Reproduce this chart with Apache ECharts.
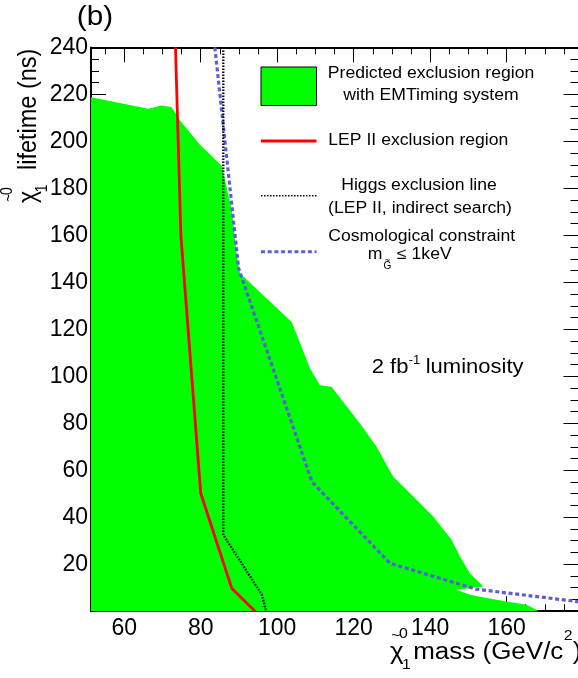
<!DOCTYPE html>
<html><head><meta charset="utf-8">
<script src="https://cdn.jsdelivr.net/npm/echarts@6/dist/echarts.min.js"></script>
<style>html,body{margin:0;padding:0;background:#fff}#c{width:578px;height:678px}</style>
</head><body><div id="c"></div>
<script>
// ---- axis ranges & ticks ----
const XMIN = 51.3, XMAX = 178.8, YMIN = 0, YMAX = 240;
const xTickLabels = [60, 80, 100, 120, 140, 160];
const xMinorTicks = [55, 60, 65, 70, 75, 80, 85, 90, 95, 100, 105, 110, 115, 120, 125, 130, 135, 140, 145, 150, 155, 160, 165, 170, 175];
const yTickLabels = [20, 40, 60, 80, 100, 120, 140, 160, 180, 200, 220, 240];

// ---- predicted exclusion region (EMTiming), polygon boundary ----
const exclusionMass     = [51.3, 66.3, 69.8, 72.4, 74.6, 79.8, 85.5, 88.1, 89.4, 90.3, 103.8, 108.6, 111.2, 114.2, 121.6, 126.0, 130.3, 135.6, 140.8, 145.6, 147.8, 150.4, 153.9, 146.9, 150.4, 154.8, 160.0, 165.2, 167.8, 168.3, 51.3];
const exclusionLifetime = [218.8, 213.9, 215.3, 214.5, 208.9, 198.6, 189.6, 171.0, 152.0, 143.7, 123.1, 103.3, 96.2, 95.5, 80.0, 70.0, 57.3, 48.8, 40.3, 30.4, 23.3, 16.2, 10.5, 9.1, 7.0, 5.6, 4.1, 2.7, 0.6, 0, 0];

// ---- LEP II exclusion region ----
const lepMass     = [73.4, 74.8, 80.0, 88.1, 94.2];
const lepLifetime = [240, 160, 50.2, 9.8, 0];

// ---- Higgs exclusion line ----
const higgsMass     = [85.9, 85.9, 96.0, 97.1];
const higgsLifetime = [240, 32.5, 7, 0];

// ---- Cosmological constraint ----
const cosmoMass     = [83.7, 89.9, 109.1, 129.5, 152.0, 180];
const cosmoLifetime = [240, 146, 55, 20.4, 9.4, 3.8];

const FONT = '"Liberation Sans", Arial, Helvetica, sans-serif';
const GREEN = '#00ff00', RED = '#ff0000', BLUE = '#5c5cdc';
const zip = (a, b) => a.map((v, i) => [v, b[i]]);

function T(x, y, text, size, align, sx) {
  return {type: 'text', x: x, y: y, scaleX: sx || 1, silent: true,
    style: {text: text, fontSize: size, fontFamily: FONT, fill: '#000', align: align || 'left', verticalAlign: 'middle'}};
}

function xAxisCfg(position, ticks, len, showLabel, showLine) {
  return {type: 'value', position: position, min: XMIN, max: XMAX, gridIndex: 0,
    axisLine: {show: showLine, onZero: false, lineStyle: {color: '#000', width: 2}},
    axisTick: {show: true, inside: true, length: len, customValues: ticks, lineStyle: {color: '#000', width: 1}},
    axisLabel: {show: showLabel, customValues: ticks, margin: 6, fontSize: 23, color: '#000', fontFamily: FONT},
    splitLine: {show: false}};
}
function yAxisCfg(position, showLabel) {
  return {type: 'value', position: position, min: YMIN, max: YMAX, interval: 20, gridIndex: 0,
    axisLine: {show: true, onZero: false, lineStyle: {color: '#000', width: 2}},
    axisTick: {show: true, inside: true, length: 15, lineStyle: {color: '#000', width: 1}},
    minorTick: {show: true, splitNumber: 4, length: 8, lineStyle: {color: '#000', width: 1}},
    axisLabel: {show: showLabel, customValues: yTickLabels, margin: 3, fontSize: 23, color: '#000', fontFamily: FONT},
    splitLine: {show: false}, minorSplitLine: {show: false}};
}

const chart = echarts.init(document.getElementById('c'), null, {renderer: 'canvas'});
chart.setOption({
  animation: false,
  backgroundColor: '#fff',
  grid: {left: 91, top: 47.4, width: 487.5, height: 563.8, containLabel: false, outerBoundsMode: 'none'},
  xAxis: [
    xAxisCfg('bottom', xTickLabels, 15, true, true),
    xAxisCfg('bottom', xMinorTicks, 7, false, false),
    xAxisCfg('top', xTickLabels, 15, false, true),
    xAxisCfg('top', xMinorTicks, 7, false, false)
  ],
  yAxis: [yAxisCfg('left', true), yAxisCfg('right', false)],
  series: [
    {type: 'custom', coordinateSystem: 'cartesian2d', xAxisIndex: 0, yAxisIndex: 0, silent: true, z: 1,
      data: zip(exclusionMass, exclusionLifetime),
      renderItem: function (params, api) {
        if (params.dataIndex !== 0) return null;
        const pts = exclusionMass.map((x, i) => api.coord([x, exclusionLifetime[i]]));
        return {type: 'polygon', shape: {points: pts}, style: {fill: GREEN}};
      }},
    {type: 'line', xAxisIndex: 0, yAxisIndex: 0, data: zip(cosmoMass, cosmoLifetime), symbol: 'none', silent: true, z: 3,
      lineStyle: {color: BLUE, width: 3.2, type: [4, 2.7]}},
    {type: 'line', xAxisIndex: 0, yAxisIndex: 0, data: zip(higgsMass, higgsLifetime), symbol: 'none', silent: true, z: 4,
      lineStyle: {color: '#000', width: 2.3, type: [1.6, 1.4]}},
    {type: 'line', xAxisIndex: 0, yAxisIndex: 0, data: zip(lepMass, lepLifetime), symbol: 'none', silent: true, z: 5,
      lineStyle: {color: RED, width: 2.8}}
  ],
  graphic: {elements: [
    T(95, 17.6, '(b)', 27, 'center', 1.1),
    // legend
    {type: 'rect', silent: true, shape: {x: 261, y: 67, width: 55.5, height: 38.5}, style: {fill: GREEN, stroke: '#000', lineWidth: 1}},
    T(431, 74, 'Predicted exclusion region', 16, 'center', 1.1),
    T(431, 96, 'with EMTiming system', 16, 'center', 1.1),
    {type: 'line', silent: true, shape: {x1: 261, y1: 141, x2: 316.5, y2: 141}, style: {stroke: RED, lineWidth: 2.8}},
    T(328.3, 141, 'LEP II exclusion region', 16, 'left', 1.1),
    {type: 'line', silent: true, shape: {x1: 261, y1: 195.7, x2: 316.5, y2: 195.7}, style: {stroke: '#000', lineWidth: 1.6, lineDash: [1.5, 1.5]}},
    T(419, 185.8, 'Higgs exclusion line', 16, 'center', 1.1),
    T(420, 208.2, '(LEP II, indirect search)', 16, 'center', 1.1),
    {type: 'line', silent: true, shape: {x1: 261, y1: 251.7, x2: 316.5, y2: 251.7}, style: {stroke: BLUE, lineWidth: 3, lineDash: [4, 2.7]}},
    T(421.7, 236.5, 'Cosmological constraint', 16, 'center', 1.1),
    T(367.7, 254.5, 'm', 16, 'left', 1.1),
    T(387.5, 266.5, 'G', 10, 'center'),
    T(387.5, 261, '~', 9, 'center'),
    T(397, 254.5, '≤ 1keV', 16, 'left', 1.1),
    // luminosity note
    T(371.7, 367.5, '2 fb', 20, 'left', 1.1),
    T(414.5, 360.5, '-1', 13, 'center'),
    T(425.7, 367.5, 'luminosity', 20, 'left', 1.1),
    // x axis title
    {type: 'group', x: 390, y: 653, scaleX: 1.13, children: [
      T(0, 0, 'χ', 23, 'left'),
      T(5.3, -17, '~', 14, 'center'),
      T(11.9, -18.5, '0', 14, 'center'),
      T(14.6, 12, '1', 14, 'center'),
      T(20.5, 0, 'mass (GeV/c', 23, 'left'),
      T(157.6, -16.5, '2', 14, 'center'),
      T(161.8, 0, ')', 23, 'left')
    ]},
    // y axis title
    {type: 'group', x: 29, y: 203, rotation: Math.PI / 2, scaleY: 1.13, children: [
      T(0, 0, 'χ', 23, 'left'),
      T(5.3, -17, '~', 14, 'center'),
      T(11.9, -18.5, '0', 14, 'center'),
      T(14.6, 12, '1', 14, 'center'),
      T(33, 0, 'lifetime (ns)', 23.5, 'left')
    ]}
  ]}
});
</script>
</body></html>
